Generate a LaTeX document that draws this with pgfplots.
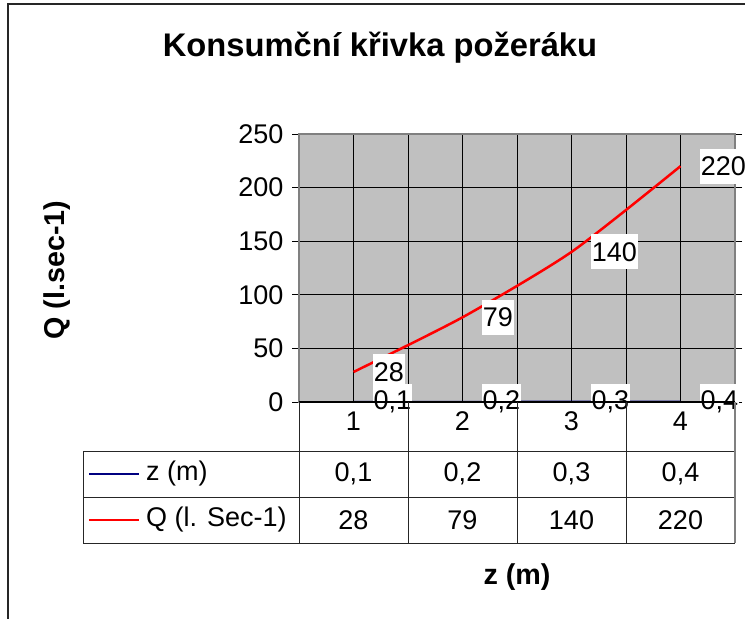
\documentclass[border=0pt]{standalone}
\usepackage{pgfplots}
\pgfplotsset{compat=1.18}
\usepackage{fontspec}
\setmainfont{Liberation Sans}
\definecolor{plotgray}{HTML}{C0C0C0}
\definecolor{bordergray}{HTML}{808080}
\definecolor{navyline}{HTML}{000080}
\newcommand{\tf}{\fontsize{27}{31}\selectfont}
\begin{document}
\begin{tikzpicture}
\useasboundingbox (0pt,0pt) rectangle (745pt,-619pt);
\begin{axis}[
  at={(299pt,-402pt)}, anchor=south west,
  scale only axis, width=436pt, height=268pt,
  xmin=0.5, xmax=4.5, ymin=0, ymax=250,
  xtick={1,2,3,4},
  xticklabels={1,2,3,4},
  minor xtick={1.5,2.5,3.5},
  ytick={0,50,100,150,200,250},
  xmajorgrids, xminorgrids, ymajorgrids,
  grid style={black, line width=0.9pt},
  minor grid style={black, line width=0.9pt},
  axis background/.style={fill=plotgray},
  axis line style={bordergray, line width=1.5pt},
  tick align=outside,
  major tick length=7pt,
  minor tick length=0pt,
  xtick style={draw=none},
  ytick style={black, line width=1pt},
  ticklabel style={font=\tf},
  yticklabel style={xshift=-5pt},
  xticklabel style={yshift=1pt},
  /pgf/number format/assume math mode=true,
  /pgf/number format/use comma,
  clip=false,
  nodes near coords,
  nodes near coords style={font=\tf, anchor=west, xshift=18pt, fill=white, text=black,
     inner xsep=1pt, inner ysep=0pt, minimum height=35pt},
]
\addplot[navyline, line width=2pt, mark=none] coordinates {(1,0.1)(2,0.2)(3,0.3)(4,0.4)};
\addplot[red, line width=2.5pt, smooth, tension=0.4, mark=none] coordinates {(1,28)(2,79)(3,140)(4,220)};
\end{axis}
\begin{scope}[x=1pt,y=-1pt]
  % outer frame
  \draw[black!85, line width=1.8pt] (8,619) -- (8,4) -- (745,4);
  % data table
  \draw[black, line width=1.2pt] (299,402) -- (735,402);
  \draw[black!85, line width=1pt] (83,451) -- (735,451) (83,497) -- (735,497) (83,543) -- (735,543) (83,451) -- (83,543);
  \foreach \xx in {299,408,517,626} {\draw[black!85, line width=1pt] (\xx,402) -- (\xx,543);}
  \draw[bordergray, line width=1.5pt] (735,402) -- (735,543);
  \draw[navyline, line width=2pt] (89,474) -- (139,474);
  \draw[red, line width=2pt] (89,520) -- (139,520);
  \node[anchor=west, inner sep=0pt, font=\tf] at (146,474) {z (m)};
  \node[anchor=west, inner sep=0pt, font=\tf] at (146,520) {Q (l. Sec-1)};
  \foreach \xx/\v in {353.5/{0,1},462.5/{0,2},571.5/{0,3},680.5/{0,4}} {\node[font=\tf] at (\xx,474) {\v};}
  \foreach \xx/\v in {353.5/28,462.5/79,571.5/140,680.5/220} {\node[font=\tf] at (\xx,520) {\v};}
  % titles
  \node[anchor=base, inner sep=0pt, font=\fontsize{32.7}{36}\selectfont\bfseries] at (380,56) {Konsumční křivka požeráku};
  \node[anchor=base, inner sep=0pt, rotate=90, font=\fontsize{28.7}{32}\selectfont\bfseries] at (64,270) {Q (l.sec-1)};
  \node[anchor=base, inner sep=0pt, font=\fontsize{28.7}{32}\selectfont\bfseries] at (517,584) {z (m)};
\end{scope}
\end{tikzpicture}
\end{document}
